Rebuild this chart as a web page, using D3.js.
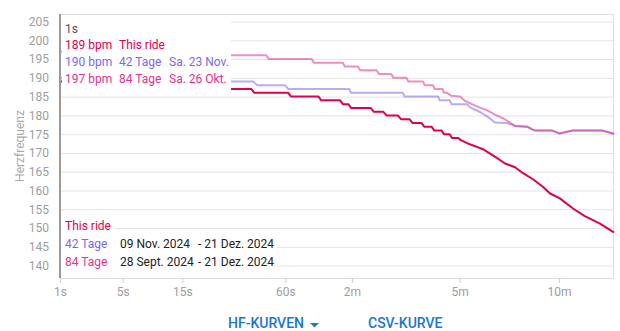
<!DOCTYPE html>
<html>
<head>
<meta charset="utf-8">
<script src="https://cdn.jsdelivr.net/npm/d3@7"></script>
<style>
  html, body { margin: 0; padding: 0; background: #fff; }
  svg { display: block; font-family: Roboto, "Noto Sans", sans-serif; }
</style>
</head>
<body>
<svg id="chart" width="620" height="331"></svg>
<script>
// Heart-rate power curves: best average heart rate held for each duration.
const durationTicks = [1, 5, 15, 60, 120, 300, 600];
const durationTickLabels = ["1s", "5s", "15s", "60s", "2m", "5m", "10m"];
const bpmTicks = [140, 145, 150, 155, 160, 165, 170, 175, 180, 185, 190, 195, 200, 205];

// This ride
const rideSeconds = [1, 6, 8, 22, 25, 40, 41.5, 62, 64, 86, 88.5, 107, 110, 116, 119, 143, 147, 160, 165, 182, 187, 201, 206, 222, 227, 241, 246, 261, 266, 278, 283, 297, 303, 324, 337, 357, 389, 418, 448, 473, 506, 540, 566, 603, 655, 705, 773, 835, 840];
const rideBpm     = [189, 189, 188, 188, 187, 187, 186, 186, 185, 185, 184, 184, 183, 183, 182, 182, 181, 181, 180, 180, 179, 179, 178, 178, 177, 177, 176, 176, 175, 175, 174, 174, 173.4, 172.3, 171.8, 171, 169, 167.2, 166.2, 164.6, 163, 161, 159.2, 157.9, 155.2, 153.2, 151.2, 149, 148.8];

// 42 Tage
const days42Seconds = [1, 10, 13, 41, 43, 60, 62, 117, 119, 190, 193, 254, 257, 278, 282, 317, 324, 349, 370, 389, 423, 448, 486, 505, 512, 572, 600, 655, 782, 835, 840];
const days42Bpm     = [190, 190, 189, 189, 188, 188, 187, 187, 186, 186, 185, 185, 184, 184, 183, 183, 182.2, 180.9, 179.6, 178.1, 178, 177.2, 177, 176.2, 176, 176, 175.2, 176, 176, 175.2, 175];

// 84 Tage
const days84Seconds = [1, 8, 11, 48, 49.5, 80, 82, 110, 112, 127, 130, 151, 154, 172, 175, 196, 199, 225, 228, 244, 247, 263, 266, 272, 282, 301, 312, 337, 367, 389, 415, 448, 486, 505, 512, 572, 600, 655, 782, 835, 840];
const days84Bpm     = [197, 197, 196, 196, 195, 195, 194, 194, 193, 193, 192, 192, 191, 191, 190, 190, 189, 189, 188, 188, 187, 187, 186, 186, 185.2, 185, 183.9, 182.6, 181.4, 180.2, 179.1, 177.2, 177, 176.2, 176, 176, 175.2, 176, 176, 175.2, 175];

// Legend text
const headerDuration = "1s";
const valueRows = [
  { bpm: "189 bpm", name: "This ride", date: "" },
  { bpm: "190 bpm", name: "42 Tage", date: "Sa. 23 Nov." },
  { bpm: "197 bpm", name: "84 Tage", date: "Sa. 26 Okt." }
];
const rangeRows = [
  { name: "This ride", from: "", to: "" },
  { name: "42 Tage", from: "09 Nov. 2024", to: "- 21 Dez. 2024" },
  { name: "84 Tage", from: "28 Sept. 2024", to: "- 21 Dez. 2024" }
];

const textColors = ["#e0004d", "#7b68ee", "#e3338c"];
const lineColors = ["#e0004d", "rgba(123,104,238,0.55)", "rgba(225,50,140,0.55)"];

const svg = d3.select("#chart");
const plotLeft = 60, plotRight = 614, plotTop = 14, plotBottom = 278;

const x = d3.scalePow().exponent(0.25).domain([1, 840]).range([plotLeft, plotRight]);
const y = d3.scaleLinear().domain([136.7, 207]).range([plotBottom, plotTop]);

// Grid lines
svg.append("g")
  .attr("transform", `translate(${plotLeft},0)`)
  .call(d3.axisRight(y).tickValues(bpmTicks).tickSize(plotRight - plotLeft).tickFormat(""))
  .call(g => g.select(".domain").remove())
  .call(g => g.selectAll(".tick line").attr("stroke", "#e3e3e3").attr("stroke-width", 1));

// Frame (top, right, bottom)
svg.append("path")
  .attr("d", `M${plotLeft},${plotTop + 0.5}H${plotRight - 0.5}V${plotBottom + 0.5}H${plotLeft}`)
  .attr("fill", "none").attr("stroke", "#dcdcdc").attr("stroke-width", 1);

// Curves
const series = [
  { s: days42Seconds, v: days42Bpm, color: lineColors[1] },
  { s: days84Seconds, v: days84Bpm, color: lineColors[2] },
  { s: rideSeconds, v: rideBpm, color: lineColors[0] }
];
const line = d3.line().x(d => x(d[0])).y(d => y(d[1])).curve(d3.curveLinear);
series.forEach(ser => {
  svg.append("path")
    .datum(ser.s.map((t, i) => [t, ser.v[i]]))
    .attr("d", line)
    .attr("fill", "none")
    .attr("stroke", ser.color)
    .attr("stroke-width", 2)
    .attr("stroke-linejoin", "round");
});

// X axis
svg.append("g")
  .attr("transform", `translate(0,${plotBottom})`)
  .call(d3.axisBottom(x).tickValues(durationTicks).tickSize(5).tickPadding(4)
    .tickFormat((d, i) => durationTickLabels[i]))
  .call(g => g.select(".domain").remove())
  .call(g => g.selectAll(".tick line").attr("stroke", "#d0d0d0"))
  .call(g => g.selectAll(".tick text").attr("fill", "#9e9e9e")
    .style("font-size", "12px").style("font-family", "Roboto, sans-serif"));

// Y axis labels
svg.append("g")
  .attr("transform", `translate(${plotLeft},0)`)
  .call(d3.axisLeft(y).tickValues(bpmTicks).tickSize(0).tickPadding(11))
  .call(g => g.select(".domain").remove())
  .call(g => g.selectAll(".tick text").attr("fill", "#9e9e9e")
    .style("font-size", "12px").style("font-family", "Roboto, sans-serif"));

svg.append("text")
  .attr("transform", "translate(24,146) rotate(-90)")
  .attr("text-anchor", "middle")
  .attr("fill", "#aaaaaa")
  .style("font-size", "12px")
  .text("Herzfrequenz");

// Value legend (top left)
const vl = svg.append("g");
vl.append("rect").attr("x", plotLeft + 2).attr("y", plotTop + 1).attr("width", 169).attr("height", 78).attr("fill", "#fff");
vl.append("text").attr("x", 65).attr("y", 32.5).attr("fill", "#5b4f4f")
  .style("font-size", "12px").text(headerDuration);
valueRows.forEach((r, i) => {
  const by = 49 + i * 17;
  vl.append("text").attr("x", 65).attr("y", by).attr("fill", textColors[i]).style("font-size", "12px").text(r.bpm);
  vl.append("text").attr("x", 119).attr("y", by).attr("fill", textColors[i]).style("font-size", "12px").text(r.name);
  vl.append("text").attr("x", 169).attr("y", by).attr("fill", textColors[i]).style("font-size", "12px").text(r.date);
});

// Date range legend (bottom left)
const rl = svg.append("g");
rangeRows.forEach((r, i) => {
  const by = 230 + i * 18;
  const row = rl.append("g");
  const bg = row.append("rect").attr("fill", "#fff");
  row.append("text").attr("x", 65).attr("y", by).attr("fill", textColors[i]).style("font-size", "12px").text(r.name);
  row.append("text").attr("x", 120).attr("y", by).attr("fill", "#222").style("font-size", "12px").text(r.from);
  row.append("text").attr("x", 198).attr("y", by).attr("fill", "#222").style("font-size", "12px").text(r.to);
  const bb = row.node().getBBox();
  bg.attr("x", plotLeft + 2).attr("y", by - 13).attr("width", bb.x + bb.width - plotLeft + 1).attr("height", 18);
});

// Left axis line
svg.append("line")
  .attr("x1", plotLeft).attr("x2", plotLeft).attr("y1", plotTop).attr("y2", plotBottom)
  .attr("stroke", "#9a9a9a").attr("stroke-width", 2);

// Buttons below the chart
const btn = svg.append("g").attr("fill", "#1976d2").style("font-size", "14px").style("font-weight", 500);
btn.append("text").attr("x", 228).attr("y", 328).text("HF-KURVEN");
btn.append("path").attr("d", "M310,323h9l-4.5,4.5z");
btn.append("text").attr("x", 368).attr("y", 328).text("CSV-KURVE");
</script>
</body>
</html>
